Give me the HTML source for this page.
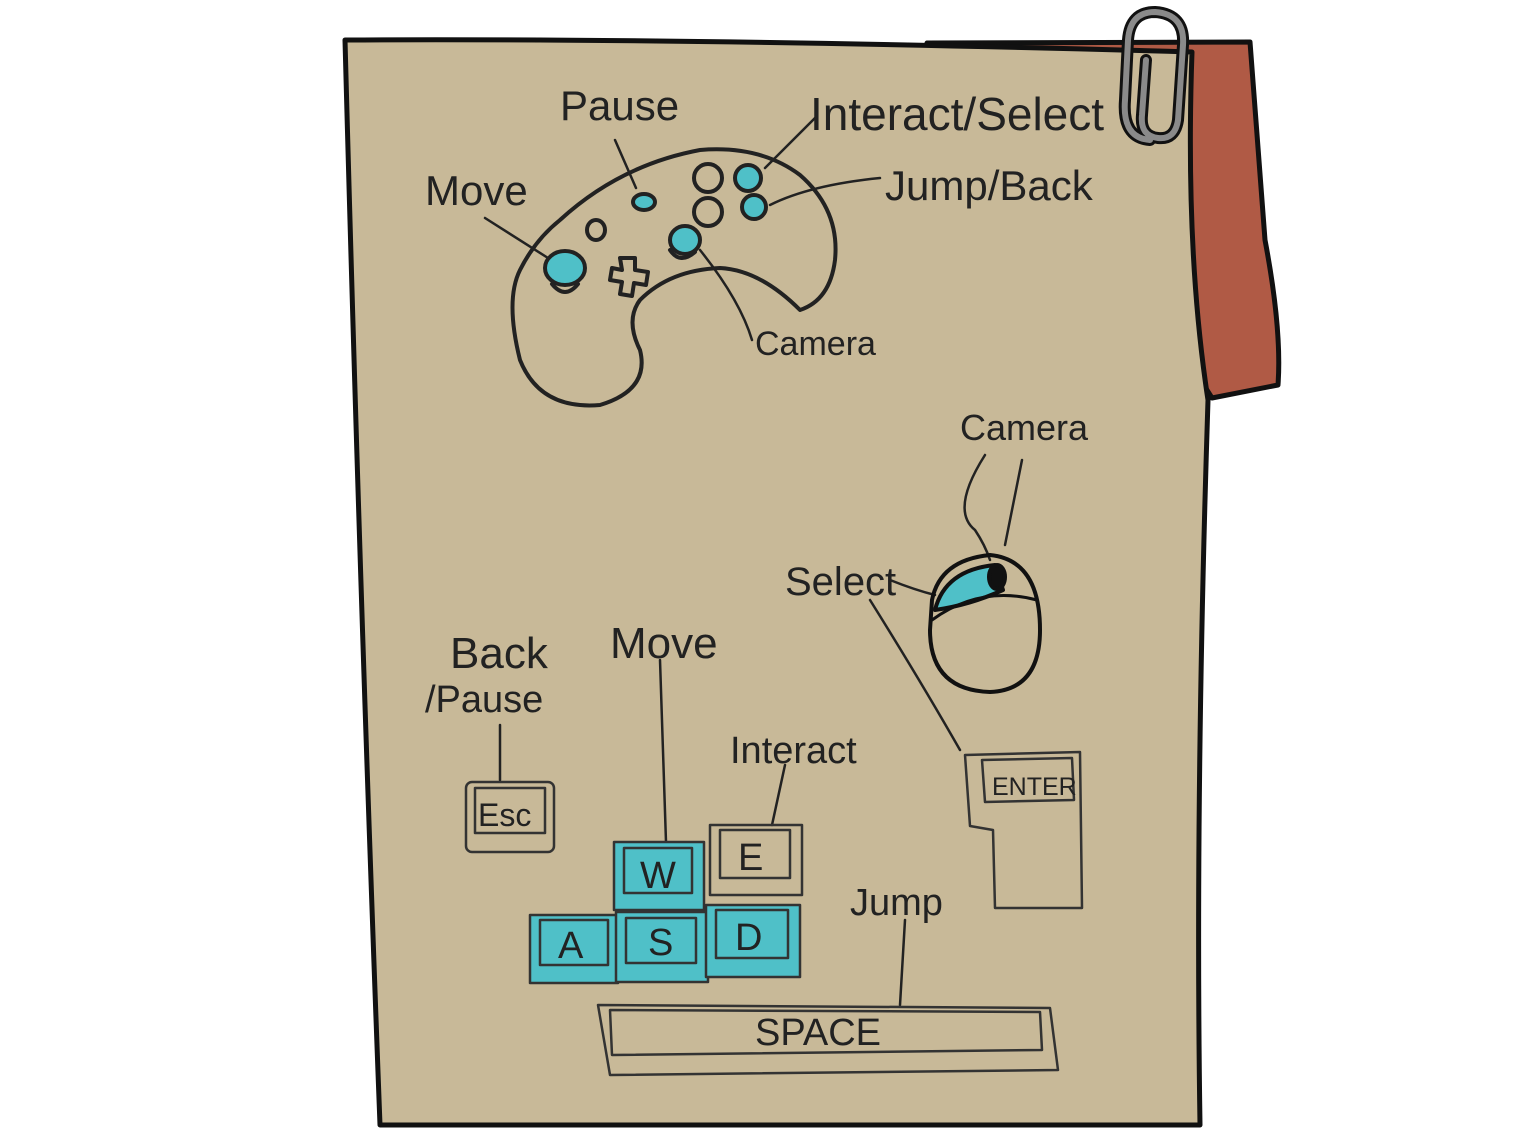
<!DOCTYPE html>
<html><head><meta charset="utf-8"><style>
html,body{margin:0;padding:0;background:#fff;width:1536px;height:1132px;overflow:hidden}
svg{display:block}
text{font-family:"Liberation Sans",sans-serif;fill:#222;font-weight:normal}
</style></head><body>
<svg width="1536" height="1132" viewBox="0 0 1536 1132" xmlns="http://www.w3.org/2000/svg">
<g stroke="#111" stroke-linecap="round" stroke-linejoin="round" fill="none">
<path d="M927 43 L1250 42 Q1258 150 1265 240 Q1282 330 1278 385 L1212 398 L1150 300 L927 60 Z" fill="#b05a45" stroke-width="5"/>
<path d="M345 40 Q700 38 1192 52 Q1185 250 1208 400 Q1195 800 1200 1125 L380 1125 Q360 600 345 40 Z" fill="#c8b998" stroke-width="5"/>
<path d="M1150 140 Q1122 138 1125 100 L1128 40 Q1130 12 1155 12 Q1185 14 1183 45 L1178 120 Q1175 140 1158 138 Q1140 136 1142 115 L1146 60" stroke="#111" stroke-width="12"/>
<path d="M1150 140 Q1122 138 1125 100 L1128 40 Q1130 12 1155 12 Q1185 14 1183 45 L1178 120 Q1175 140 1158 138 Q1140 136 1142 115 L1146 60" stroke="#8a8a8a" stroke-width="6"/>
<g stroke-width="4" stroke="#222">
<path d="M560 220 Q620 165 700 150 Q760 145 800 175 Q840 210 835 260 Q830 300 800 310 Q760 270 720 268 Q670 270 640 300 Q625 320 640 350 Q650 390 600 405 Q540 410 520 360 Q505 300 520 270 Q535 240 560 220 Z"/>
<circle cx="708" cy="178" r="14"/><circle cx="708" cy="212" r="14"/>
<circle cx="748" cy="178" r="13" fill="#4fc0c8"/><circle cx="754" cy="207" r="12" fill="#4fc0c8"/>
<ellipse cx="644" cy="202" rx="11" ry="8" fill="#4fc0c8"/>
<ellipse cx="596" cy="230" rx="9" ry="10"/>
<ellipse cx="565" cy="268" rx="20" ry="17" fill="#4fc0c8"/><path d="M552 284 Q565 300 578 284"/>
<ellipse cx="685" cy="240" rx="15" ry="14" fill="#4fc0c8"/><path d="M670 250 Q680 265 695 252"/>
<path d="M620 258 L635 258 L635 270 L648 272 L646 285 L634 283 L632 296 L620 294 L622 282 L610 280 L612 268 L622 270 Z"/>
</g>
<g stroke-width="2.5" stroke="#222">
<path d="M615 140 L636 188"/><path d="M485 218 L548 258"/><path d="M815 118 L765 168"/>
<path d="M880 178 Q810 185 770 205"/><path d="M700 250 Q740 300 752 340"/>
<path d="M500 725 L500 780"/><path d="M660 660 L666 842"/><path d="M785 765 L772 825"/>
<path d="M905 920 L900 1005"/><path d="M870 600 Q920 680 960 750"/>
<path d="M890 580 Q915 590 935 595"/><path d="M985 455 Q950 510 975 530 Q985 545 990 560"/><path d="M1022 460 L1005 545"/>
</g>
<g stroke-width="4">
<path d="M932 600 Q940 560 990 555 Q1040 560 1040 630 Q1040 690 990 692 Q930 690 930 630 Z"/>
<path d="M935 610 Q945 570 995 565 L1003 590 Q970 605 935 610 Z" fill="#4fc0c8"/>
<path d="M932 620 Q980 585 1037 600" stroke-width="3"/>
<ellipse cx="997" cy="577" rx="8" ry="12" fill="#111"/>
</g>
<g stroke-width="2.5" stroke="#333">
<rect x="466" y="782" width="88" height="70" rx="6"/><rect x="475" y="788" width="70" height="45"/>
<rect x="614" y="842" width="90" height="68" fill="#4fc0c8"/><rect x="624" y="848" width="68" height="45"/>
<rect x="710" y="825" width="92" height="70"/><rect x="720" y="830" width="70" height="48"/>
<rect x="530" y="915" width="88" height="68" fill="#4fc0c8"/><rect x="540" y="920" width="68" height="45"/>
<rect x="616" y="912" width="92" height="70" fill="#4fc0c8"/><rect x="626" y="918" width="70" height="45"/>
<rect x="706" y="905" width="94" height="72" fill="#4fc0c8"/><rect x="716" y="910" width="72" height="48"/>
<path d="M965 755 L1080 752 L1082 908 L995 908 L993 830 L970 826 Z"/>
<path d="M982 760 L1072 758 L1074 800 L985 802 Z"/>
<path d="M598 1005 L1050 1008 L1058 1070 L610 1075 Z"/>
<path d="M610 1010 L1040 1012 L1042 1050 L612 1055 Z"/>
</g>
</g>
<g font-size="40" fill="#222">
<text x="560" y="120" font-size="42">Pause</text>
<text x="425" y="205" font-size="42">Move</text>
<text x="810" y="130" font-size="46">Interact/Select</text>
<text x="885" y="200" font-size="42">Jump/Back</text>
<text x="755" y="355" font-size="34">Camera</text>
<text x="960" y="440" font-size="36">Camera</text>
<text x="785" y="595" font-size="40">Select</text>
<text x="450" y="668" font-size="44">Back</text>
<text x="425" y="712" font-size="38">/Pause</text>
<text x="610" y="658" font-size="44">Move</text>
<text x="730" y="763" font-size="38">Interact</text>
<text x="850" y="915" font-size="38">Jump</text>
<text x="478" y="826" font-size="32">Esc</text>
<text x="640" y="888" font-size="38">W</text>
<text x="738" y="870" font-size="38">E</text>
<text x="558" y="958" font-size="38">A</text>
<text x="648" y="955" font-size="38">S</text>
<text x="735" y="950" font-size="38">D</text>
<text x="992" y="795" font-size="25">ENTER</text>
<text x="755" y="1045" font-size="38">SPACE</text>
</g>
</svg>
</body></html>
